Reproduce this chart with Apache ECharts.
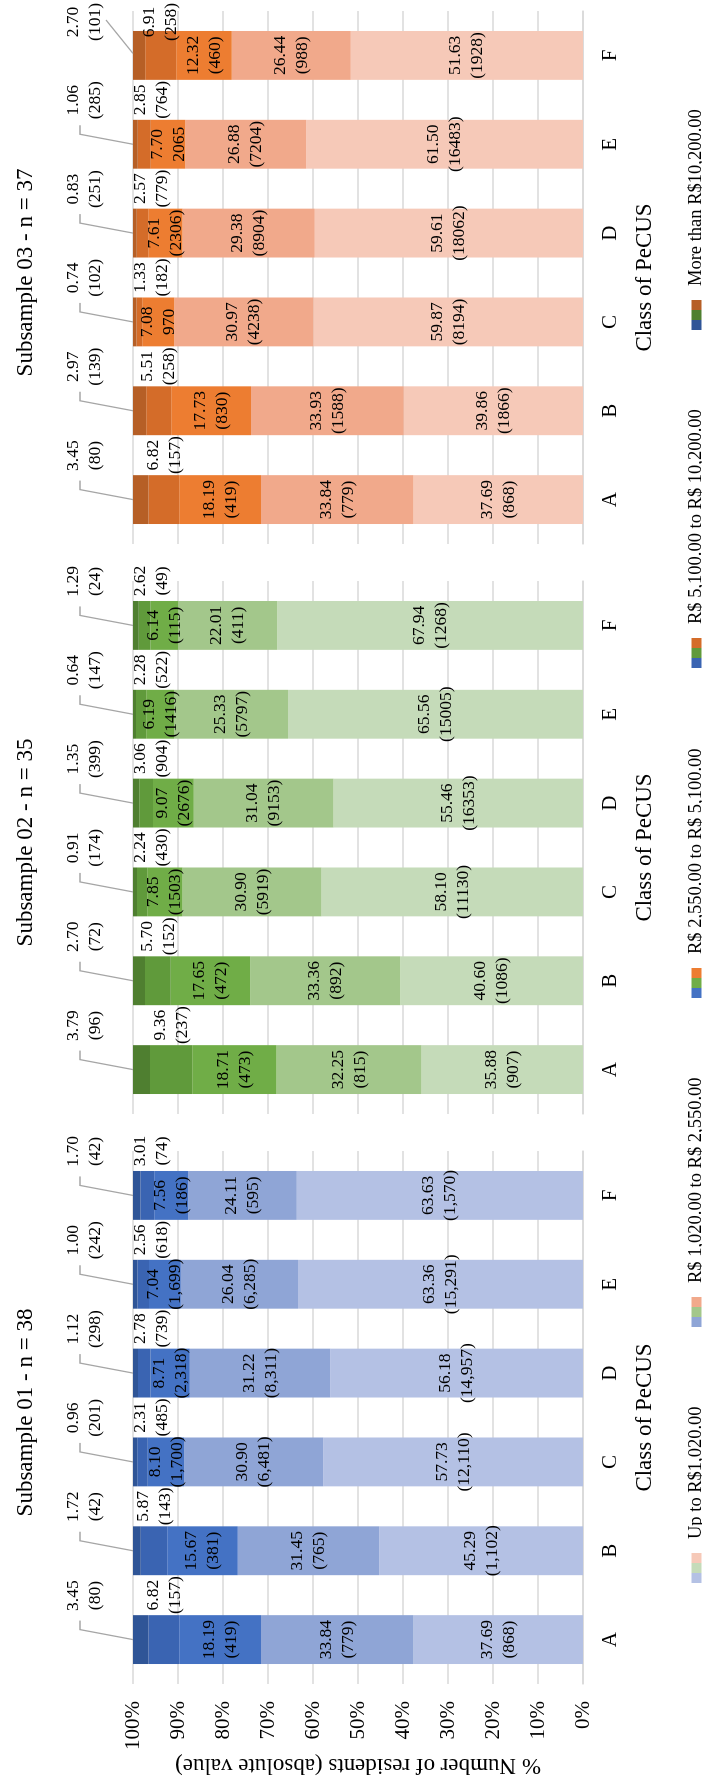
<!DOCTYPE html>
<html>
<head>
<meta charset="utf-8">
<script src="https://cdn.jsdelivr.net/npm/echarts@6/dist/echarts.min.js"></script>
<style>
  html, body { margin: 0; padding: 0; background: #fff; }
  body { width: 702px; height: 1784px; overflow: hidden; position: relative; }
  /* the chart is laid out landscape and turned a quarter turn counter-clockwise */
  #chart {
    position: absolute; left: 0; top: 0;
    width: 1784px; height: 702px;
    transform-origin: 0 0;
    transform: translate(0, 1784px) rotate(-90deg);
    background: #fff;
  }
</style>
</head>
<body>
<div id="chart"></div>
<script>
// Classes of PeCUS on the category axis
const categories = ['A', 'B', 'C', 'D', 'E', 'F'];

// Income bands, bottom of the stack first
const bands = [
  'Up to R$1,020.00',
  'R$ 1,020.00 to R$ 2,550.00',
  'R$ 2,550.00 to R$ 5,100.00',
  'R$ 5,100.00 to R$ 10,200.00',
  'More than R$10,200.00'
];

const subsampleTitles = ['Subsample 01 - n = 38', 'Subsample 02 - n = 35', 'Subsample 03 - n = 37'];

// Share of residents (%) per band (rows) and class A..F (columns)
const sub01Pct = [
  [37.69, 45.29, 57.73, 56.18, 63.36, 63.63],
  [33.84, 31.45, 30.90, 31.22, 26.04, 24.11],
  [18.19, 15.67, 8.10, 8.71, 7.04, 7.56],
  [6.82, 5.87, 2.31, 2.78, 2.56, 3.01],
  [3.45, 1.72, 0.96, 1.12, 1.00, 1.70]
];
const sub01Count = [
  ['(868)', '(1,102)', '(12,110)', '(14,957)', '(15,291)', '(1,570)'],
  ['(779)', '(765)', '(6,481)', '(8,311)', '(6,285)', '(595)'],
  ['(419)', '(381)', '(1,700)', '(2,318)', '(1,699)', '(186)'],
  ['(157)', '(143)', '(485)', '(739)', '(618)', '(74)'],
  ['(80)', '(42)', '(201)', '(298)', '(242)', '(42)']
];

const sub02Pct = [
  [35.88, 40.60, 58.10, 55.46, 65.56, 67.94],
  [32.25, 33.36, 30.90, 31.04, 25.33, 22.01],
  [18.71, 17.65, 7.85, 9.07, 6.19, 6.14],
  [9.36, 5.70, 2.24, 3.06, 2.28, 2.62],
  [3.79, 2.70, 0.91, 1.35, 0.64, 1.29]
];
const sub02Count = [
  ['(907)', '(1086)', '(11130)', '(16353)', '(15005)', '(1268)'],
  ['(815)', '(892)', '(5919)', '(9153)', '(5797)', '(411)'],
  ['(473)', '(472)', '(1503)', '(2676)', '(1416)', '(115)'],
  ['(237)', '(152)', '(430)', '(904)', '(522)', '(49)'],
  ['(96)', '(72)', '(174)', '(399)', '(147)', '(24)']
];

const sub03Pct = [
  [37.69, 39.86, 59.87, 59.61, 61.50, 51.63],
  [33.84, 33.93, 30.97, 29.38, 26.88, 26.44],
  [18.19, 17.73, 7.08, 7.61, 7.70, 12.32],
  [6.82, 5.51, 1.33, 2.57, 2.85, 6.91],
  [3.45, 2.97, 0.74, 0.83, 1.06, 2.70]
];
const sub03Count = [
  ['(868)', '(1866)', '(8194)', '(18062)', '(16483)', '(1928)'],
  ['(779)', '(1588)', '(4238)', '(8904)', '(7204)', '(988)'],
  ['(419)', '(830)', '970', '(2306)', '2065', '(460)'],
  ['(157)', '(258)', '(182)', '(779)', '(764)', '(258)'],
  ['(80)', '(139)', '(102)', '(251)', '(285)', '(101)']
];

// Value axis ticks (%)
const valueTicks = { min: 0, max: 100, interval: 10 };

const pctData = [sub01Pct, sub02Pct, sub03Pct];
const countData = [sub01Count, sub02Count, sub03Count];

// Shades per subsample, lightest (lowest band) to darkest
const palettes = [
  ['#B4C1E4', '#8FA5D6', '#4472C4', '#3A64B2', '#2F5597'],
  ['#C5DBB9', '#A3C78B', '#70AD47', '#609A3B', '#4F7F30'],
  ['#F6C9B8', '#F1A98B', '#ED7D31', '#D46C29', '#B65F26']
];

const W = 1784;
const GRID_TOP = 133, GRID_H = 450;
const PANEL_LEFT = [100, 670, 1240], PANEL_W = 533;
const LEGEND_LEFT = [196, 452, 781, 1111, 1449];
const FONT = "'Liberation Serif', 'Times New Roman', serif";
const INK = '#000';
const GRID_COLOR = '#D9D9D9';

const seriesName = (p, b) => bands[b] + ' | ' + subsampleTitles[p];

const chart = echarts.init(document.getElementById('chart'), null, { renderer: 'canvas', width: 1784, height: 702 });

const grid = PANEL_LEFT.map(left => ({ left, top: GRID_TOP, width: PANEL_W, height: GRID_H, containLabel: false }));

const xAxis = PANEL_LEFT.map((_, p) => ({
  type: 'category', gridIndex: p, data: categories,
  axisLine: { show: true, lineStyle: { color: GRID_COLOR, width: 1.5 } },
  axisTick: { show: false },
  axisLabel: { fontFamily: FONT, fontSize: 21, color: INK, margin: 17 },
  name: 'Class of PeCUS', nameLocation: 'middle', nameGap: 50,
  nameTextStyle: { fontFamily: FONT, fontSize: 23, color: INK }
}));

const yAxis = PANEL_LEFT.map((_, p) => ({
  type: 'value', gridIndex: p, min: valueTicks.min, max: valueTicks.max, interval: valueTicks.interval,
  axisLine: { show: false }, axisTick: { show: false },
  splitLine: { show: true, lineStyle: { color: GRID_COLOR, width: 1.5 } },
  axisLabel: p === 0
    ? { show: true, formatter: '{value}%', fontFamily: FONT, fontSize: 21, color: INK, margin: 17 }
    : { show: false },
  name: p === 0 ? '% Number of residents (absolute value)' : '',
  nameLocation: 'middle', nameRotate: 90, nameGap: 70,
  nameTextStyle: { fontFamily: FONT, fontSize: 23, color: INK }
}));

const labelText = { fontFamily: FONT, fontSize: 17.5, lineHeight: 22, color: INK };

const series = [];
for (let p = 0; p < 3; p++) {
  for (let b = 0; b < 5; b++) {
    const fmt = (d) => d.value.toFixed(2) + '\n' + countData[p][b][d.dataIndex];
    const s = {
      name: seriesName(p, b), type: 'bar', stack: 'panel' + p,
      xAxisIndex: p, yAxisIndex: p, barWidth: '55%',
      data: pctData[p][b],
      itemStyle: { color: palettes[p][b] },
      emphasis: { disabled: true },
      label: { show: false }
    };
    if (b < 3) {
      s.label = Object.assign({ show: true, position: 'inside', formatter: fmt }, labelText);
    } else if (b === 3) {
      // small band: label sits beside the bar
      s.label = Object.assign({ show: true, position: 'right', formatter: fmt }, labelText);
      s.labelLayout = (prm) => ({
        x: Math.min(prm.rect.x + prm.rect.width + 20, W - prm.labelRect.width / 2 - 3),
        y: Math.max(prm.rect.y + prm.rect.height / 2, GRID_TOP + 18),
        align: 'center', verticalAlign: 'middle'
      });
    }
    series.push(s);
  }
  // top band: callout above the bar with a leader line
  const top = pctData[p][4], cnt = countData[p][4];
  series.push({
    type: 'custom', xAxisIndex: p, yAxisIndex: p, silent: true, z: 5,
    data: categories.map((c, i) => [i, valueTicks.max]),
    encode: { x: 0, y: 1 },
    renderItem: (params, api) => {
      const i = api.value(0);
      const pt = api.coord([i, valueTicks.max]);
      const cx = pt[0], ty = pt[1];
      let lx = cx + 44, points;
      const limit = api.getWidth() - 22;
      if (lx > limit) {
        lx = limit;
        points = [[cx + 2, ty], [lx + 2, ty - 27]];
      } else {
        points = [[cx, ty], [cx + 10, ty - 53], [cx + 19, ty - 53]];
      }
      return {
        type: 'group',
        children: [
          { type: 'polyline', shape: { points }, style: { stroke: '#A6A6A6', lineWidth: 1.3, fill: null } },
          {
            type: 'text', x: lx, y: ty - 49,
            style: {
              text: top[i].toFixed(2) + '\n' + cnt[i],
              fontFamily: FONT, fontSize: 17.5, lineHeight: 22, fill: INK,
              align: 'center', verticalAlign: 'middle'
            }
          }
        ]
      };
    }
  });
}

const title = subsampleTitles.map((t, p) => ({
  text: t, left: PANEL_LEFT[p] + PANEL_W / 2, top: 9, textAlign: 'center',
  textStyle: { fontFamily: FONT, fontSize: 23, fontWeight: 'normal', color: INK }
}));

const legend = bands.map((band, b) => ({
  left: LEGEND_LEFT[b], top: 682, orient: 'horizontal',
  itemWidth: 10, itemHeight: 10, itemGap: 0, icon: 'rect', selectedMode: false,
  data: [0, 1, 2].map(p => ({ name: seriesName(p, b), textStyle: p === 2 ? { padding: [0, 0, 0, 9] } : {} })),
  formatter: (name) => name === seriesName(2, b) ? band : '',
  textStyle: { fontFamily: FONT, fontSize: 18.5, color: INK }
}));

chart.setOption({
  animation: false,
  backgroundColor: '#fff',
  title, legend, grid, xAxis, yAxis, series
});
</script>
</body>
</html>
